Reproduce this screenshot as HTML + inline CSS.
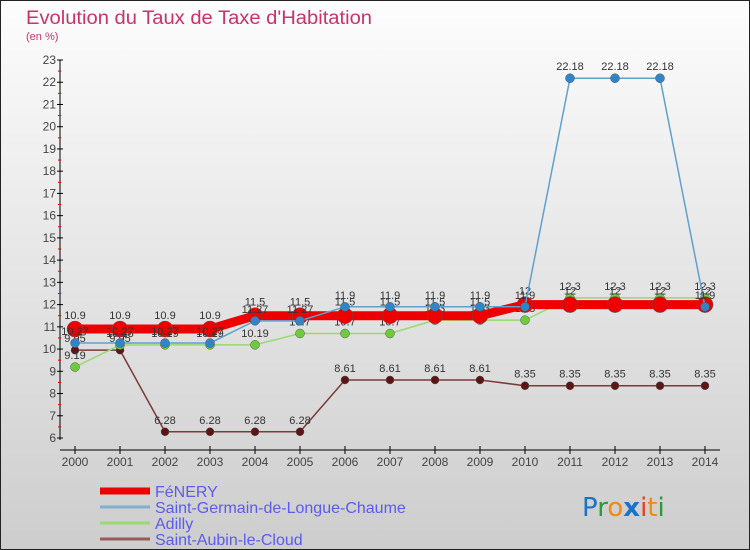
<!DOCTYPE html>
<html><head><meta charset="utf-8"><style>
html,body{margin:0;padding:0}
body{width:750px;height:550px;overflow:hidden;font-family:"Liberation Sans",sans-serif}
</style></head><body>
<svg id="c" width="750" height="550" xmlns="http://www.w3.org/2000/svg" style="display:block">
<defs><linearGradient id="bg" x1="0" y1="0" x2="0" y2="1"><stop offset="0" stop-color="#fdfdfd"/><stop offset="1" stop-color="#cdcdcd"/></linearGradient></defs>
<rect x="0.5" y="0.5" width="749" height="549" fill="url(#bg)" stroke="#222" stroke-width="1"/>
<text x="26" y="24" font-size="19" fill="#c8336a" textLength="346" lengthAdjust="spacingAndGlyphs">Evolution du Taux de Taxe d'Habitation</text>
<text x="26" y="40" font-size="11" fill="#c8336a">(en %)</text>
<g id="axes"></g><g id="series"></g><g id="legend"></g>
<text x="582" y="516" font-size="26" font-family="DejaVu Sans, sans-serif"><tspan fill="#1a73c8">P</tspan><tspan fill="#2a9a3a">r</tspan><tspan fill="#f08a10">o</tspan><tspan fill="#1a73c8" font-weight="bold">x</tspan><tspan fill="#e8401a">i</tspan><tspan fill="#f08a10">t</tspan><tspan fill="#2a9a3a">i</tspan></text>
</svg>
<script>
const years=[2000,2001,2002,2003,2004,2005,2006,2007,2008,2009,2010,2011,2012,2013,2014];
const fenery=[10.9,10.9,10.9,10.9,11.5,11.5,11.5,11.5,11.5,11.5,12,12,12,12,12];
const sglc=[10.27,10.27,10.27,10.27,11.27,11.27,11.9,11.9,11.9,11.9,11.9,22.18,22.18,22.18,11.9];
const adilly=[9.19,10.18,10.19,10.19,10.19,10.7,10.7,10.7,11.3,11.3,11.3,12.3,12.3,12.3,12.3];
const aubin=[9.95,9.95,6.28,6.28,6.28,6.28,8.61,8.61,8.61,8.61,8.35,8.35,8.35,8.35,8.35];
const yTicks=[6,7,8,9,10,11,12,13,14,15,16,17,18,19,20,21,22,23];
const names=["FéNERY","Saint-Germain-de-Longue-Chaume","Adilly","Saint-Aubin-le-Cloud"];
const NS="http://www.w3.org/2000/svg";
const x=i=>75+i*45;
const y=v=>438-(v-6)*(378/17);
function mk(p,t,a){const e=document.createElementNS(NS,t);for(const k in a)e.setAttribute(k,a[k]);p.appendChild(e);return e;}
const ax=document.getElementById('axes');
let l=mk(ax,'line',{x1:60,y1:60,x2:60,y2:440,stroke:'#000'});

l=mk(ax,'line',{x1:60,y1:450,x2:720,y2:450,stroke:'#000'});

yTicks.forEach(v=>{
  mk(ax,'line',{x1:57,y1:y(v),x2:63,y2:y(v),stroke:'#000'});
  if(v<23)mk(ax,'line',{x1:58,y1:y(v+0.5),x2:61,y2:y(v+0.5),stroke:'#e00'});
  const t=mk(ax,'text',{x:56,y:y(v)+4,'text-anchor':'end','font-size':12,fill:'#444'});
  
  t.textContent=v;
});
years.forEach((yr,i)=>{
  mk(ax,'line',{x1:x(i),y1:446,x2:x(i),y2:454,stroke:'#000'});
  const t=mk(ax,'text',{x:x(i),y:466,'text-anchor':'middle','font-size':12,fill:'#444'});
  
  t.textContent=yr;
});
const sg=document.getElementById('series');
function series(data,color,w,r,dot,name,lblOff){
  const g=mk(sg,'g',{});
  
  mk(g,'polyline',{points:data.map((v,i)=>x(i)+','+y(v)).join(' '),fill:'none',stroke:color,'stroke-width':w,'stroke-linejoin':'round'});
  data.forEach((v,i)=>{
    const c=mk(g,'circle',{cx:x(i),cy:y(v),r:r,fill:dot,stroke:'#555','stroke-width':0.5});
    
    const t=mk(g,'text',{x:x(i),y:y(v)+lblOff,'text-anchor':'middle','font-size':11,fill:'#333'});
    
    t.textContent=v;
  });
}
series(aubin,'#7a3a3a',1.5,4,'#5c1414','series-saint-aubin',-8);
series(adilly,'#9ad870',1.5,4.5,'#6ccc3a','series-adilly',-8);
series(fenery,'#ee0000',9,8,'#ee0000','series-fenery',-10);
series(sglc,'#5fa0d0',1.5,4.5,'#2e86c8','series-sglc',-8);
const lg=document.getElementById('legend');
const lc=['#ee0000','#7fb0d0','#9ad870','#9a5a5a'],lw=[7,3,3,3];
names.forEach((n,i)=>{
  const ly=491+i*16;
  const g=mk(lg,'g',{});
  
  mk(g,'line',{x1:100,y1:ly,x2:150,y2:ly,stroke:lc[i],'stroke-width':lw[i]});
  const t=mk(g,'text',{x:155,y:ly+6,'font-size':16,fill:'#5b5bf0'});
  t.textContent=n;
});
</script>
</body></html>
